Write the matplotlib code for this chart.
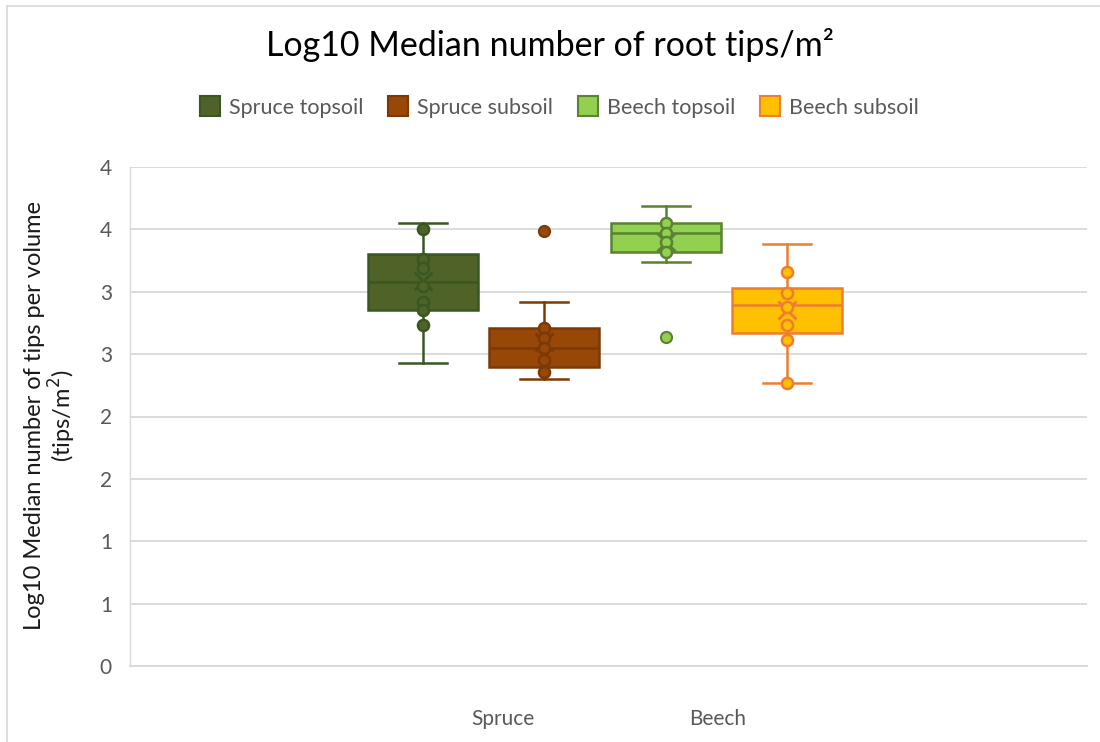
import numpy as np
import matplotlib
matplotlib.use("Agg")
import matplotlib.pyplot as plt
from matplotlib.lines import Line2D

plt.rcParams['font.family'] = ['Lato', 'DejaVu Sans']

# series
series = ['Spruce topsoil', 'Spruce subsoil', 'Beech topsoil', 'Beech subsoil']
whislo = [2.43, 2.30, 3.24, 2.27]
q1 = [2.85, 2.40, 3.32, 2.67]
med = [3.08, 2.55, 3.47, 2.89]
q3 = [3.30, 2.71, 3.55, 3.03]
whishi = [3.55, 2.92, 3.69, 3.38]
mean = [3.09, 2.60, 3.40, 2.85]
outliers = [[], [3.49], [2.64], []]
points = [
    [3.50, 3.26, 3.19, 3.05, 2.92, 2.85, 2.73],
    [2.71, 2.63, 2.55, 2.45, 2.36],
    [3.55, 3.47, 3.40, 3.32],
    [3.16, 2.99, 2.88, 2.73, 2.61, 2.27],
]
fills = ['#4F6228', '#974706', '#92D050', '#FFC000']
edges = ['#385723', '#7A3A06', '#5A8232', '#ED7D31']

groups = ['Spruce', 'Beech']
y_ticks = [0, 0.5, 1, 1.5, 2, 2.5, 3, 3.5, 4]
y_labels = ['0', '1', '1', '2', '2', '3', '3', '4', '4']

pos = [2.42, 3.42, 4.43, 5.43]
group_pos = [3.08, 4.86]

fig = plt.figure(figsize=(11, 7.42), dpi=100)
ax = fig.add_axes([130 / 1100, 76 / 742, 957 / 1100, 499 / 742])

# chart area border (only top and left are visible in the picture)
fig.lines.append(Line2D([7 / 1100, 1], [1 - 6 / 742, 1 - 6 / 742],
                        transform=fig.transFigure, color='#D9D9D9', linewidth=1.2))
fig.lines.append(Line2D([7 / 1100, 7 / 1100], [0, 1 - 6 / 742],
                        transform=fig.transFigure, color='#D9D9D9', linewidth=1.2))

for i in range(4):
    st = [dict(whislo=whislo[i], q1=q1[i], med=med[i], q3=q3[i],
               whishi=whishi[i], mean=mean[i], fliers=outliers[i])]
    ax.bxp(st, positions=[pos[i]], widths=0.91, patch_artist=True,
           showmeans=True, meanline=False, showfliers=True,
           boxprops=dict(facecolor=fills[i], edgecolor=edges[i], linewidth=1.8),
           medianprops=dict(color=edges[i], linewidth=1.8),
           whiskerprops=dict(color=edges[i], linewidth=1.8),
           capprops=dict(color=edges[i], linewidth=1.8),
           capwidths=0.4,
           meanprops=dict(marker='x', markeredgecolor=edges[i], markersize=13,
                          markeredgewidth=2),
           flierprops=dict(marker='o', markerfacecolor=fills[i],
                           markeredgecolor=edges[i], markersize=8,
                           markeredgewidth=1.5),
           zorder=3)
    ax.plot([pos[i]] * len(points[i]), points[i], 'o', markersize=8,
            markerfacecolor=fills[i], markeredgecolor=edges[i],
            markeredgewidth=1.8, zorder=4)
    ax.plot([], [], 's', markersize=14, markerfacecolor=fills[i],
            markeredgecolor=edges[i], markeredgewidth=1.5, label=series[i])

ax.set_xlim(0, 957 / 121)
ax.set_ylim(0, 4)
ax.set_yticks(y_ticks)
ax.set_yticklabels(y_labels)
ax.set_xticks(group_pos)
ax.set_xticklabels(groups)
ax.tick_params(axis='both', length=0, labelsize=15, labelcolor='#595959')
ax.tick_params(axis='y', pad=13)
ax.tick_params(axis='x', pad=31)
ax.grid(axis='y', color='#D9D9D9', linewidth=1.3, zorder=0)
ax.set_axisbelow(True)
for s in ['top', 'right']:
    ax.spines[s].set_visible(False)
ax.spines['left'].set_color('#D9D9D9')
ax.spines['left'].set_linewidth(1.0)
ax.spines['bottom'].set_color('#D9D9D9')
ax.spines['bottom'].set_linewidth(1.3)

fig.text(51 / 1100, 1 - 416 / 742,
         'Log10 Median number of tips per volume\n(tips/m$^2$)',
         rotation=90, ha='center', va='center', multialignment='center',
         fontsize=17, color='#1a1a1a', linespacing=1.1)

fig.text(0.5, 1 - 45 / 742, 'Log10 Median number of root tips/m\u00b2',
         ha='center', va='center', fontsize=24.5, color='#000000')

fig.legend(loc='center', bbox_to_anchor=(0.509, 1 - 108 / 742), ncol=4,
           frameon=False, fontsize=15.5, labelcolor='#595959',
           handlelength=0.8, handletextpad=0.5, columnspacing=1.2)

fig.savefig('out.png', dpi=100)
